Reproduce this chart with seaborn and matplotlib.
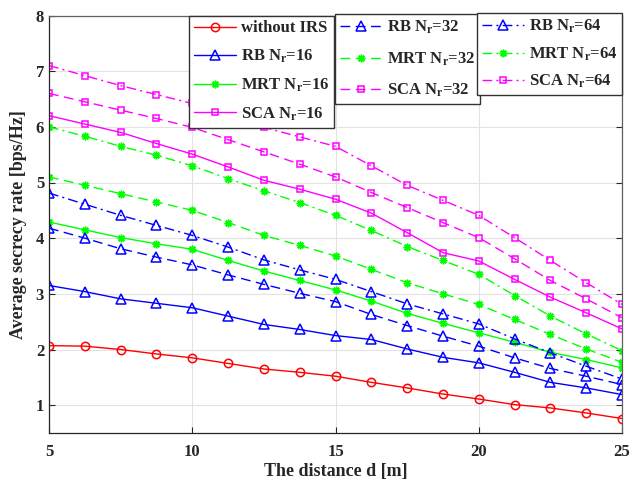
import numpy as np
import pandas as pd
import matplotlib
matplotlib.use("Agg")
import matplotlib.pyplot as plt
import seaborn as sns

# ---- data ----
distance = [5, 6.25, 7.5, 8.75, 10, 11.25, 12.5, 13.75, 15, 16.25, 17.5, 18.75, 20, 21.25, 22.5, 23.75, 25]
without_irs = [2.07, 2.06, 2.00, 1.92, 1.85, 1.75, 1.65, 1.59, 1.52, 1.41, 1.31, 1.20, 1.11, 1.01, 0.95, 0.86, 0.76]
rb_16 = [3.15, 3.04, 2.91, 2.83, 2.75, 2.60, 2.45, 2.36, 2.25, 2.18, 2.01, 1.86, 1.76, 1.59, 1.41, 1.31, 1.19]
mrt_16 = [4.29, 4.15, 4.01, 3.90, 3.80, 3.60, 3.41, 3.24, 3.07, 2.87, 2.65, 2.47, 2.30, 2.13, 1.95, 1.82, 1.67]
sca_16 = [6.20, 6.05, 5.90, 5.70, 5.51, 5.28, 5.04, 4.88, 4.70, 4.45, 4.10, 3.74, 3.59, 3.26, 2.94, 2.66, 2.37]
rb_32 = [4.18, 4.00, 3.81, 3.66, 3.52, 3.34, 3.17, 3.01, 2.86, 2.63, 2.43, 2.24, 2.06, 1.85, 1.66, 1.52, 1.37]
mrt_32 = [5.10, 4.95, 4.80, 4.65, 4.50, 4.28, 4.05, 3.87, 3.68, 3.44, 3.20, 3.00, 2.81, 2.54, 2.27, 2.01, 1.77]
sca_32 = [6.60, 6.45, 6.30, 6.15, 5.99, 5.77, 5.55, 5.33, 5.10, 4.82, 4.55, 4.28, 4.01, 3.63, 3.24, 2.91, 2.57]
rb_64 = [4.81, 4.61, 4.41, 4.23, 4.05, 3.84, 3.61, 3.43, 3.26, 3.04, 2.82, 2.64, 2.46, 2.19, 1.94, 1.70, 1.47]
mrt_64 = [6.00, 5.83, 5.65, 5.49, 5.30, 5.07, 4.85, 4.64, 4.41, 4.14, 3.85, 3.60, 3.35, 2.97, 2.60, 2.28, 1.98]
sca_64 = [7.10, 6.92, 6.74, 6.58, 6.42, 6.22, 5.99, 5.82, 5.65, 5.30, 4.95, 4.68, 4.41, 4.01, 3.60, 3.20, 2.81]

labels = ["without IRS",
          r"RB $\mathbf{N_r}$=16", r"MRT $\mathbf{N_r}$=16", r"SCA $\mathbf{N_r}$=16",
          r"RB $\mathbf{N_r}$=32", r"MRT $\mathbf{N_r}$=32", r"SCA $\mathbf{N_r}$=32",
          r"RB $\mathbf{N_r}$=64", r"MRT $\mathbf{N_r}$=64", r"SCA $\mathbf{N_r}$=64"]
series = [without_irs, rb_16, mrt_16, sca_16, rb_32, mrt_32, sca_32, rb_64, mrt_64, sca_64]

sns.set_style("ticks")
plt.rcParams["font.family"] = ["Liberation Serif", "DejaVu Serif"]
plt.rcParams["font.weight"] = "bold"
plt.rcParams["mathtext.fontset"] = "custom"
plt.rcParams["mathtext.rm"] = "Liberation Serif"
plt.rcParams["mathtext.bf"] = "Liberation Serif:bold"
plt.rcParams["mathtext.it"] = "Liberation Serif:italic:bold"

RED, BLUE, GREEN, MAG = (1, 0, 0), (0, 0, 1), (0, 1, 0), (1, 0, 1)
colors = [RED, BLUE, GREEN, MAG, BLUE, GREEN, MAG, BLUE, GREEN, MAG]
markers = ["o", "^", (8, 2, 0), "s", "^", (8, 2, 0), "s", "^", (8, 2, 0), "s"]
msizes = [6, 6.5, 5.5, 5, 6.5, 5.5, 5, 6.5, 5.5, 5]
dash = (0, (7, 4))
dashdot = (0, (7, 3, 1.5, 3))
styles = ["-", "-", "-", "-", dash, dash, dash, dashdot, dashdot, dashdot]

fig = plt.figure(figsize=(6.30, 4.83), dpi=100)
ax = fig.add_axes([49 / 630, 1 - 433 / 483, 573 / 630, 417.5 / 483])

handles = []
for lab, vals, c, m, ms, ls in zip(labels, series, colors, markers, msizes, styles):
    df = pd.DataFrame({"d": distance, "rate": vals})
    sns.lineplot(data=df, x="d", y="rate", ax=ax, color=c, linestyle=ls, linewidth=1.0,
                 marker=m, markersize=ms, markerfacecolor="none", markeredgecolor=c,
                 markeredgewidth=1.1, label=lab, legend=False)
    handles.append(ax.lines[-1])

ax.set_xlim(5, 25)
ax.set_ylim(0.5, 8)
ax.set_xticks([5, 10, 15, 20, 25])
ax.set_yticks([1, 2, 3, 4, 5, 6, 7, 8])
ax.grid(True, color="#e3e3e3", linewidth=0.8)
ax.set_axisbelow(True)
ax.tick_params(direction="in", length=4, width=0.8, labelsize=12, top=False, right=True,
               color="#262626")
for lab in ax.get_xticklabels() + ax.get_yticklabels():
    lab.set_fontweight("bold")
ax.tick_params(axis="x", pad=8)
for s in ax.spines.values():
    s.set_color("#262626")
    s.set_linewidth(0.9)
ax.spines["right"].set_color("#606060")
ax.spines["top"].set_color("#606060")
ax.set_xlabel("The distance d [m]", fontsize=13, fontweight="bold", labelpad=2)
ax.set_ylabel("Average secrecy rate [bps/Hz]", fontsize=13, fontweight="bold", labelpad=6)

common = dict(frameon=True, fancybox=False, framealpha=1, edgecolor="#333333",
              borderaxespad=0, prop={"weight": "bold", "size": 12},
              handlelength=2.5, handletextpad=0.3, borderpad=0.3)
leg1 = ax.legend(handles[0:4], labels[0:4], loc="upper left", labelspacing=0.68,
                 bbox_to_anchor=((189 - 49) / 573, 1.0), **common)
leg2 = ax.legend(handles[4:7], labels[4:7], loc="upper left", labelspacing=0.85,
                 bbox_to_anchor=((335 - 49) / 573, 1.004), **common)
leg3 = ax.legend(handles[7:10], labels[7:10], loc="upper right", labelspacing=0.6,
                 bbox_to_anchor=(1.0, 1.006), **common)
for lg in (leg1, leg2, leg3):
    lg.get_frame().set_linewidth(1.0)
ax.add_artist(leg1)
ax.add_artist(leg2)

fig.savefig("out.png", dpi=100)
